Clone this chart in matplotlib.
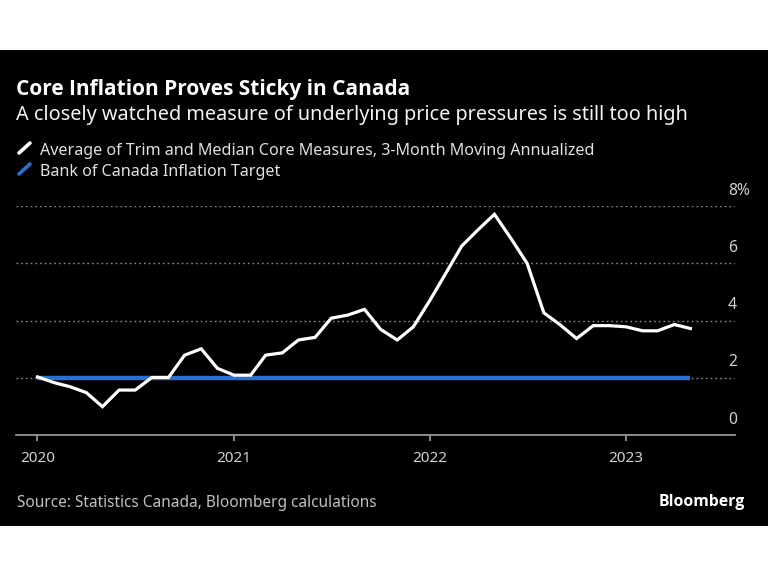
import matplotlib
matplotlib.use("Agg")
import matplotlib.pyplot as plt
import matplotlib.patches as patches
import matplotlib.lines as mlines
import numpy as np
import pandas as pd

plt.rcParams['font.family'] = ['Noto Sans', 'DejaVu Sans']

# monthly data, Jan 2020 - May 2023
months = pd.date_range("2020-01-01", "2023-05-01", freq="MS")
core = [2.03, 1.83, 1.69, 1.48, 0.99, 1.57, 1.57, 2.01, 2.01, 2.79, 3.01, 2.33,
        2.09, 2.09, 2.79, 2.87, 3.32, 3.41, 4.08, 4.19, 4.39, 3.69, 3.32, 3.78,
        4.71, 5.70, 6.60, 7.18, 7.71, 6.86, 5.99, 4.27, 3.84, 3.37, 3.82, 3.82,
        3.78, 3.64, 3.64, 3.86, 3.72]
target = [2.0] * len(months)

yticks = [0, 2, 4, 6, 8]
ylabels = ["0", "2", "4", "6", "8%"]
xticks = pd.to_datetime(["2020-01-01", "2021-01-01", "2022-01-01", "2023-01-01"])
xlabels = ["2020", "2021", "2022", "2023"]

W, H = 768, 576
def px(x, y):
    return x / W, 1 - y / H

fig = plt.figure(figsize=(7.68, 5.76), dpi=100)
fig.patch.set_facecolor("white")
fig.patches.append(patches.Rectangle((0, 1 - 526 / H), 1, (526 - 50) / H,
                                     transform=fig.transFigure, facecolor="black",
                                     edgecolor="none", zorder=-5))

ax = fig.add_axes([16 / W, 1 - 435 / H, (735 - 16) / W, (435 - 206) / H])
ax.set_zorder(2)
ax.set_facecolor("black")

for v in yticks[1:]:
    ax.axhline(v, color="#8a8a8a", lw=1, linestyle=(0, (1.2, 2.2)), zorder=1)

ax.plot(months, target, color="#2a6fd4", lw=3.2, solid_capstyle="butt", zorder=2)
ax.plot(months, core, color="white", lw=2.3, solid_joinstyle="miter", zorder=3)

ax.set_ylim(0, 8)
ax.set_xlim(pd.Timestamp("2019-11-22"), pd.Timestamp("2023-07-23"))

for s in ["top", "right", "left"]:
    ax.spines[s].set_visible(False)
ax.spines["bottom"].set_color("#a0a0a0")
ax.spines["bottom"].set_linewidth(1.2)
ax.set_yticks([])
ax.set_xticks(xticks)
ax.set_xticklabels(xlabels)
ax.tick_params(axis="x", colors="#a0a0a0", length=4.5, width=1.2, pad=7,
               labelcolor="#d0d0d0", labelsize=11)

for v, lab in zip(yticks, ylabels):
    ax.annotate(lab, xy=(0.990, v), xycoords=ax.get_yaxis_transform(),
                xytext=(0, 11), textcoords="offset points",
                ha="left", va="center", color="#d0d0d0", fontsize=11.3,
                annotation_clip=False)

bold = ['Open Sans', 'DejaVu Sans']

# header
fig.text(*px(16, 95), "Core Inflation Proves Sticky in Canada", color="white",
         fontsize=15, fontweight="bold", family=bold, va="baseline")
fig.text(*px(16, 120), "A closely watched measure of underlying price pressures is still too high",
         color="#f2f2f2", fontsize=14.3, va="baseline")

# legend
for (x0, y0, x1, y1), c in [((19, 153, 30, 143), "white"), ((19, 174, 30, 164), "#2a6fd4")]:
    fig.lines.append(mlines.Line2D([x0 / W, x1 / W], [1 - y0 / H, 1 - y1 / H],
                                   transform=fig.transFigure, color=c, lw=2.6,
                                   solid_capstyle="round"))
fig.text(*px(40, 155), "Average of Trim and Median Core Measures, 3-Month Moving Annualized",
         color="#e0e0e0", fontsize=11.6, va="baseline")
fig.text(*px(40, 176), "Bank of Canada Inflation Target", color="#e0e0e0",
         fontsize=11.6, va="baseline")

# footer
fig.text(*px(17, 507), "Source: Statistics Canada, Bloomberg calculations",
         color="#c0c0c0", fontsize=11.1, va="baseline")
fig.text(*px(745, 506), "Bloomberg", color="white", fontsize=11.3,
         fontweight="bold", family=bold, ha="right", va="baseline")

fig.savefig("out.png", dpi=100, facecolor=fig.get_facecolor())
